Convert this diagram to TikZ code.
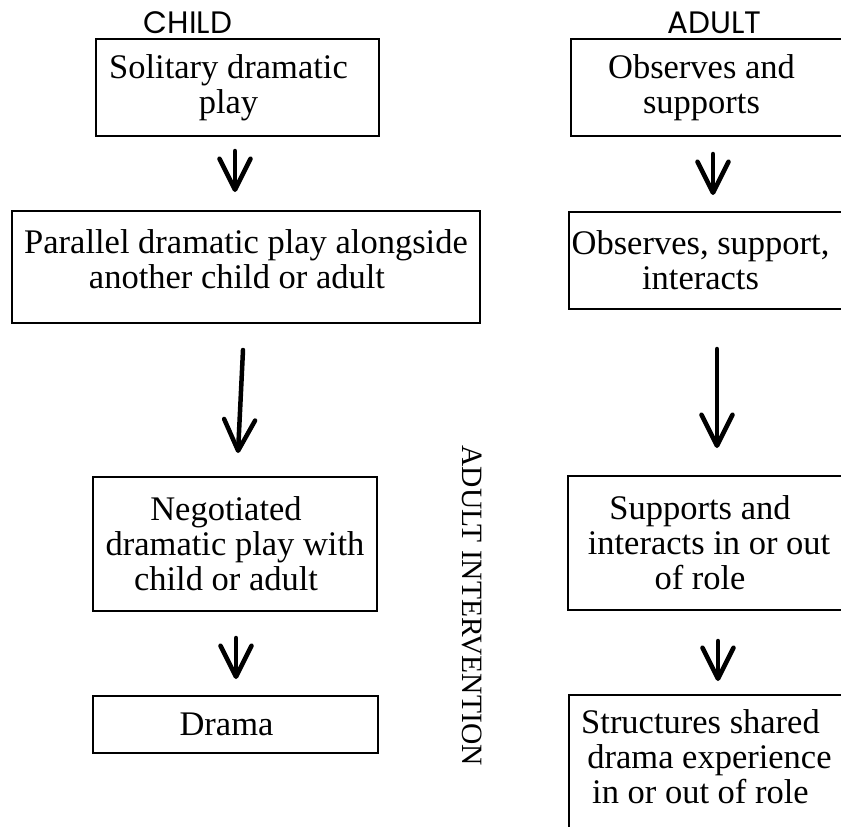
\documentclass[tikz,border=0pt]{standalone}
\usepackage{fontspec}
\setmainfont{Liberation Serif}
\newfontfamily\headfont{Poppins}
\usetikzlibrary{arrows.meta}
\newcommand\trailgap{\hspace*{18pt}}
\newcommand\deepstrut[1]{\rule[-#1]{0pt}{#1}}
\begin{document}
\begin{tikzpicture}[x=1pt,y=-1pt,
  box/.style={draw, line width=2pt, rectangle, inner sep=0pt, align=center,
    font=\fontsize{34.5}{35}\selectfont},
  head/.style={font=\headfont\fontsize{31}{31}\selectfont, anchor=base, inner sep=0pt},
  vtext/.style={rotate=-90, inner sep=0pt, font=\fontsize{29.5}{30}\selectfont},
  arr/.style={line width=4.5pt, line cap=round,
    -{Straight Barb[length=31pt,width=31pt,round]}},
]
\useasboundingbox (0,0) rectangle (841,827);
\clip (0,0) rectangle (841,827);

% headings
\node[head] (hc) at (188,34) {CHILD};
\node[head] (ha) at (714.5,34) {ADULT};

% child column
\node[box, minimum width=283pt, minimum height=97pt] (b1) at (237.5,87.5)
  {Solitary dramatic\trailgap\\play\trailgap};
\node[box, minimum width=468pt, minimum height=112pt] (b2) at (246,267)
  {Parallel dramatic play alongside\\another child or adult\trailgap\deepstrut{16pt}};
\node[box, minimum width=284pt, minimum height=133.5pt] (b3) at (235,543.75)
  {Negotiated\trailgap\\dramatic play with\trailgap\\child or adult\trailgap};
\node[box, minimum width=285pt, minimum height=57pt] (b4) at (235.5,724.5)
  {Drama\trailgap};

% adult column
\node[box, minimum width=279pt, minimum height=97pt] (r1) at (710.5,87.5)
  {Observes and\trailgap\\supports\trailgap};
\node[box, minimum width=281pt, minimum height=97pt] (r2) at (709.5,260.5)
  {Observes, support,\trailgap\\interacts\trailgap};
\node[box, minimum width=282pt, minimum height=134pt] (r3) at (709,543)
  {Supports and\trailgap\\interacts in or out\trailgap\\of role\trailgap};
\node[box, minimum width=281pt, minimum height=140pt] (r4) at (709.5,765)
  {Structures shared\trailgap\\drama experience\trailgap\\in or out of role\trailgap\deepstrut{16pt}};

% vertical label
\node[vtext] (ai) at (472,605.5) {ADULT INTERVENTION};

% arrows
\coordinate (a1s) at (235,151);   \coordinate (a1e) at (235,192);
\coordinate (a2s) at (243,350);   \coordinate (a2e) at (238,453);
\coordinate (a3s) at (236,638);   \coordinate (a3e) at (236,679);
\coordinate (ra1s) at (713,154);  \coordinate (ra1e) at (713,195);
\coordinate (ra2s) at (717,349);  \coordinate (ra2e) at (717,448);
\coordinate (ra3s) at (718,641);  \coordinate (ra3e) at (718,681);
\draw[arr] (a1s) -- (a1e);
\draw[arr] (a2s) -- (a2e);
\draw[arr] (a3s) -- (a3e);
\draw[arr] (ra1s) -- (ra1e);
\draw[arr] (ra2s) -- (ra2e);
\draw[arr] (ra3s) -- (ra3e);
\end{tikzpicture}
\end{document}
